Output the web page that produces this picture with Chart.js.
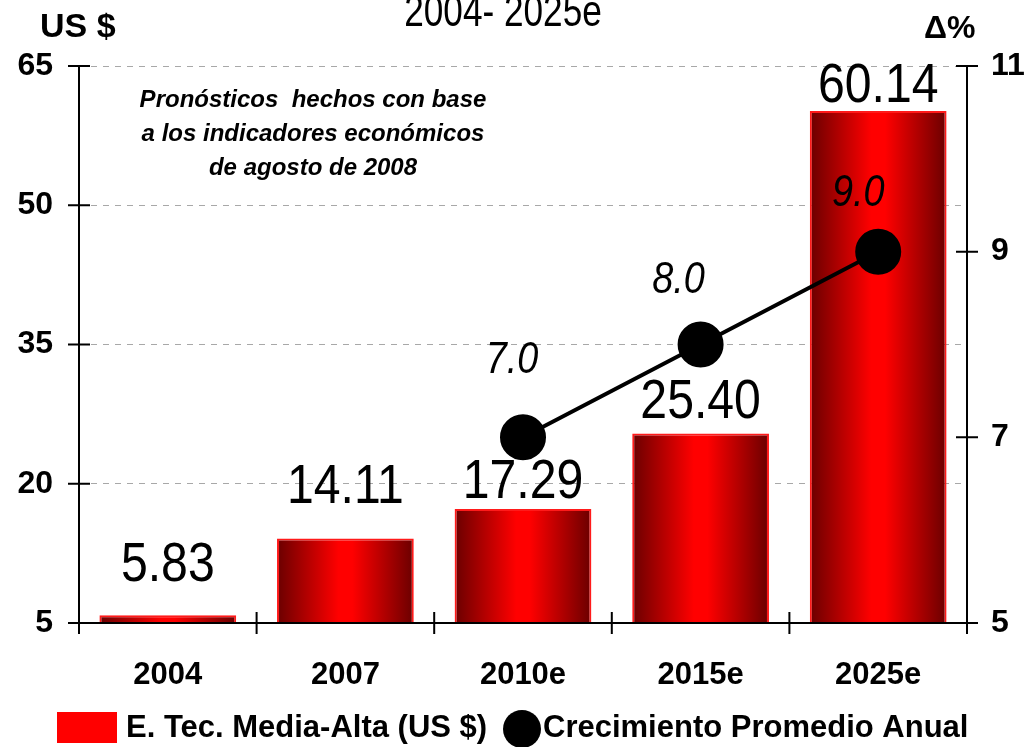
<!DOCTYPE html>
<html>
<head>
<meta charset="utf-8">
<script src="https://cdn.jsdelivr.net/npm/chart.js@4/dist/chart.umd.min.js"></script>
<style>
  html, body { margin: 0; padding: 0; background: #fff; }
</style>
</head>
<body>
<canvas id="chart" width="1029" height="747"></canvas>
<script>
const categories = ['2004', '2007', '2010e', '2015e', '2025e'];
const valoresUS = [5.83, 14.11, 17.29, 25.40, 60.14];
const crecimiento = [null, null, 7.0, 8.0, 9.0];
const ticksUS = [5, 20, 35, 50, 65];
const ticksPct = [5, 7, 9, 11];

// ajustes de posicion de etiquetas (px)
const barLabelLift = [34, 35, 11, 16, 9];
const lineLabelShift = [null, null, [-11, -64], [-22, -52], [-20, -46]];

const SANS = '"Liberation Sans", Arial, sans-serif';

function barGradient(c) {
  const chart = c.chart;
  const area = chart.chartArea;
  if (!area) return '#e00000';
  const cx = chart.scales.x.getPixelForValue(c.dataIndex);
  const half = (area.width / categories.length) * 0.77 / 2;
  const g = chart.ctx.createLinearGradient(cx - half, 0, cx + half, 0);
  g.addColorStop(0, '#6a0000');
  g.addColorStop(0.45, '#ff0000');
  g.addColorStop(0.55, '#ff0000');
  g.addColorStop(1, '#6a0000');
  return g;
}

// no hay Arial Narrow: se comprime a mano
function narrowText(ctx, text, x, y, sx) {
  ctx.save();
  ctx.translate(x, y);
  ctx.scale(sx, 1);
  ctx.fillText(text, 0, 0);
  ctx.restore();
}

const extras = {
  id: 'extras',
  beforeDraw(chart) {
    const ctx = chart.ctx;
    ctx.save();
    ctx.fillStyle = '#fff';
    ctx.fillRect(0, 0, chart.width, chart.height);
    ctx.restore();
  },
  afterDatasetsDraw(chart) {
    const ctx = chart.ctx;
    ctx.save();
    ctx.fillStyle = '#000';
    ctx.textAlign = 'center';
    ctx.textBaseline = 'alphabetic';

    // valores de barras
    ctx.font = '56px ' + SANS;
    chart.getDatasetMeta(0).data.forEach((bar, i) => {
      narrowText(ctx, valoresUS[i].toFixed(2), bar.x, bar.y - barLabelLift[i], 0.86);
    });

    // valores de la linea
    ctx.font = 'italic 44px ' + SANS;
    chart.getDatasetMeta(1).data.forEach((pt, i) => {
      if (crecimiento[i] == null) return;
      const s = lineLabelShift[i];
      narrowText(ctx, crecimiento[i].toFixed(1), pt.x + s[0], pt.y + s[1], 0.86);
    });
    ctx.restore();
  },
  afterDraw(chart) {
    const ctx = chart.ctx;
    const a = chart.chartArea;
    const yL = chart.scales.y, yR = chart.scales.y1;
    ctx.save();
    ctx.strokeStyle = '#000';
    ctx.lineWidth = 2;
    ctx.beginPath();
    // ejes
    ctx.moveTo(a.left, a.top); ctx.lineTo(a.left, a.bottom);
    ctx.moveTo(a.right, a.top); ctx.lineTo(a.right, a.bottom);
    ctx.moveTo(a.left, a.bottom); ctx.lineTo(a.right, a.bottom);
    // marcas
    ticksUS.forEach(v => {
      const y = yL.getPixelForValue(v);
      ctx.moveTo(a.left - 11, y); ctx.lineTo(a.left + 11, y);
    });
    ticksPct.forEach(v => {
      const y = yR.getPixelForValue(v);
      ctx.moveTo(a.right - 11, y); ctx.lineTo(a.right + 11, y);
    });
    const cw = a.width / categories.length;
    for (let i = 0; i <= categories.length; i++) {
      const x = a.left + i * cw;
      ctx.moveTo(x, a.bottom - 11); ctx.lineTo(x, a.bottom + 11);
    }
    ctx.stroke();

    ctx.fillStyle = '#000';

    // titulo (cortado arriba)
    ctx.textAlign = 'center';
    ctx.textBaseline = 'alphabetic';
    ctx.font = '44px ' + SANS;
    narrowText(ctx, '2004- 2025e', 503, 26, 0.8);

    ctx.textBaseline = 'middle';
    ctx.textAlign = 'left';
    ctx.font = 'bold 34px ' + SANS;
    ctx.fillText('US $', 40, 28);
    ctx.font = 'bold 32px ' + SANS;
    ctx.fillText('\u0394%', 924, 29);

    // nota
    ctx.textAlign = 'center';
    ctx.font = 'italic bold 24px ' + SANS;
    ctx.fillText('Pronósticos  hechos con base', 313, 100);
    ctx.fillText('a los indicadores económicos', 313, 134);
    ctx.fillText('de agosto de 2008', 313, 168);

    // leyenda
    ctx.fillStyle = '#ff0000';
    ctx.fillRect(57, 712, 60, 31);
    ctx.fillStyle = '#000';
    ctx.textAlign = 'left';
    ctx.font = 'bold 31px ' + SANS;
    ctx.fillText('E. Tec. Media-Alta (US $)', 126, 728);
    ctx.beginPath();
    ctx.arc(522, 729, 19, 0, Math.PI * 2);
    ctx.fill();
    ctx.fillText('Crecimiento Promedio Anual', 543, 728);
    ctx.restore();
  }
};

const ctx = document.getElementById('chart').getContext('2d');

new Chart(ctx, {
  data: {
    labels: categories,
    datasets: [
      {
        type: 'bar',
        label: 'E. Tec. Media-Alta (US $)',
        data: valoresUS,
        yAxisID: 'y',
        backgroundColor: barGradient,
        borderColor: '#ff1a1a',
        borderWidth: 2,
        barPercentage: 0.77,
        categoryPercentage: 1,
        order: 1,
      },
      {
        type: 'line',
        label: 'Crecimiento Promedio Anual',
        data: crecimiento,
        yAxisID: 'y1',
        borderColor: '#000',
        borderWidth: 4,
        pointRadius: 21,
        pointBackgroundColor: '#000',
        pointBorderColor: '#000',
        fill: false,
        order: 0,
      },
    ],
  },
  options: {
    responsive: false,
    devicePixelRatio: 1,
    animation: false,
    layout: { padding: { top: 66, bottom: 54, left: 0, right: 0 } },
    plugins: {
      legend: { display: false },
      tooltip: { enabled: false },
    },
    scales: {
      x: {
        grid: { display: false, drawTicks: false },
        border: { display: false },
        ticks: { color: '#000', font: { family: SANS, size: 31, weight: 'bold' }, padding: 34 },
        afterFit: (s) => { s.height = 70; },
      },
      y: {
        position: 'left',
        min: 5,
        max: 65,
        afterBuildTicks: (s) => { s.ticks = ticksUS.map(v => ({ value: v })); },
        grid: {
          drawTicks: false,
          color: (c) => (c.tick && c.tick.value === 5 ? 'rgba(0,0,0,0)' : '#a8a8a8'),
          lineWidth: 1,
        },
        border: { display: false, dash: [6, 6] },
        ticks: { color: '#000', font: { family: SANS, size: 32, weight: 'bold' }, padding: 26 },
        afterFit: (s) => { s.width = 79; },
      },
      y1: {
        position: 'right',
        min: 5,
        max: 11,
        afterBuildTicks: (s) => { s.ticks = ticksPct.map(v => ({ value: v })); },
        grid: { display: false, drawTicks: false },
        border: { display: false },
        ticks: { color: '#000', font: { family: SANS, size: 32, weight: 'bold' }, padding: 24 },
        afterFit: (s) => { s.width = 62; },
      },
    },
  },
  plugins: [extras],
});
</script>
</body>
</html>
